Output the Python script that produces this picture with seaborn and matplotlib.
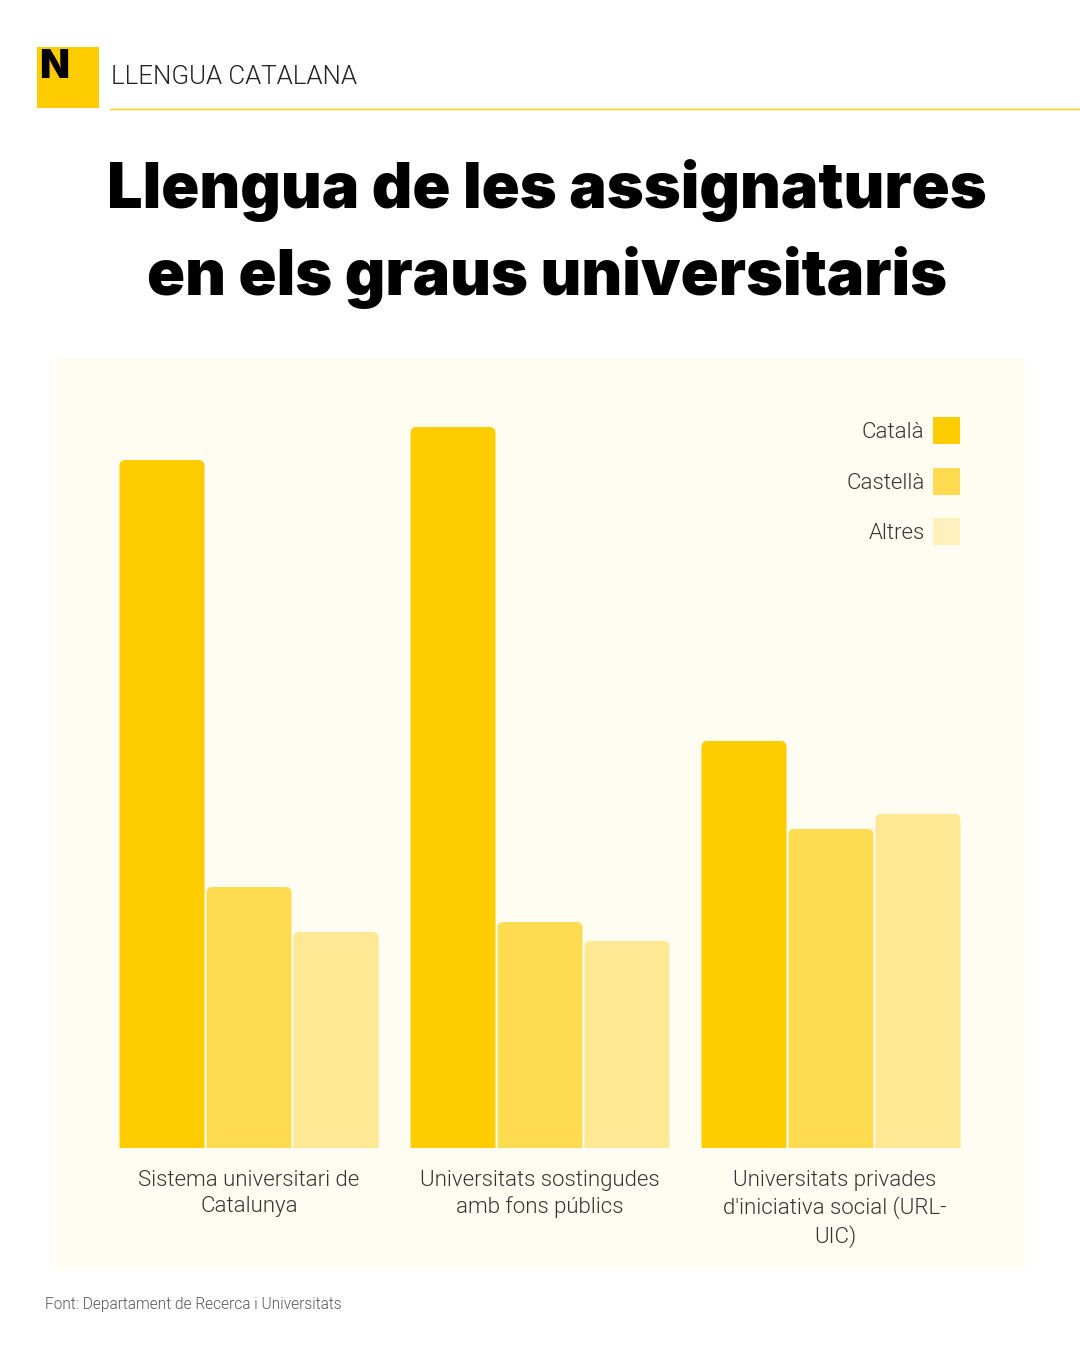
import pandas as pd
import matplotlib.pyplot as plt
import seaborn as sns
from matplotlib.lines import Line2D
from matplotlib.patches import Patch, PathPatch, Rectangle
from matplotlib.path import Path
from matplotlib.transforms import ScaledTranslation

# data
grups = ['Sistema universitari de\nCatalunya',
         'Universitats sostingudes\namb fons públics',
         "Universitats privades\nd'iniciativa social (URL-\nUIC)"]
llengues = ['Català', 'Castellà', 'Altres']
catala = [68.8, 72.1, 40.7]
castella = [26.1, 22.6, 31.9]
altres = [21.6, 20.7, 33.4]

colors_barres = ['#FFCC00', '#FFDB52', '#FEE894']
colors_llegenda = ['#FFCC00', '#FFDB52', '#FFF0BD']

W, H = 1080, 1350
lletra = 'Roboto'

df = pd.DataFrame({
    'grup': grups * 3,
    'llengua': [l for l in llengues for _ in grups],
    'valor': catala + castella + altres,
})

sns.set_theme(style='white')
plt.rcParams['font.family'] = [lletra, 'DejaVu Sans']

fig = plt.figure(figsize=(W / 100, H / 100), dpi=100, facecolor='white')


def caixa(x0, y0, x1, y1):
    # px amb origen a dalt -> fraccio de figura
    return [x0 / W, 1 - y1 / H, (x1 - x0) / W, (y1 - y0) / H]


# fons del grafic
fig.add_artist(Rectangle((55 / W, 1 - 1270 / H), 970 / W, 912 / H, transform=fig.transFigure,
                         facecolor='#FFFDF2', edgecolor='none', zorder=-1))

# capcalera
fig.add_artist(Rectangle((37 / W, 1 - 108 / H), 62 / W, 61 / H, transform=fig.transFigure,
                         facecolor='#FFCC00', edgecolor='none'))
fig.text(39 / W, 1 - 78 / H, 'N', fontsize=28, fontweight=900, family='Inter', color='black', va='baseline')
fig.text(111 / W, 1 - 84 / H, 'LLENGUA CATALANA', fontsize=18.6, fontweight=300, color='#222222', va='baseline')
fig.add_artist(Line2D([110 / W, 1], [1 - 108.5 / H] * 2, transform=fig.transFigure, color='#FFCC00', lw=1))

# titol
fig.text(547 / W, 1 - 208 / H, 'Llengua de les assignatures', fontsize=45.3, fontweight=900, family='Inter',
         color='black', ha='center', va='baseline')
fig.text(547 / W, 1 - 295 / H, 'en els graus universitaris', fontsize=45.3, fontweight=900, family='Inter',
         color='black', ha='center', va='baseline')

# barres
ax = fig.add_axes(caixa(55, 358, 1025, 1148))
ax.patch.set_alpha(0)
sns.barplot(data=df, x='grup', y='valor', hue='llengua', hue_order=llengues,
            palette=colors_barres, saturation=1, width=0.897, gap=0.023, legend=False, ax=ax)
ax.set_xlim((55 - 249) / 291, (1025 - 249) / 291)
ax.set_ylim(0, 79)

# cantonades arrodonides a dalt
rx = 6 / 291
ry = 6 / 10
for barra in list(ax.patches):
    x0, y0 = barra.get_x(), barra.get_y()
    x1, y1 = x0 + barra.get_width(), y0 + barra.get_height()
    cami = Path([(x0, y0), (x0, y1 - ry), (x0, y1), (x0 + rx, y1), (x1 - rx, y1), (x1, y1),
                 (x1, y1 - ry), (x1, y0), (x0, y0)],
                [Path.MOVETO, Path.LINETO, Path.CURVE3, Path.CURVE3, Path.LINETO, Path.CURVE3,
                 Path.CURVE3, Path.LINETO, Path.CLOSEPOLY])
    ax.add_patch(PathPatch(cami, facecolor=barra.get_facecolor(), edgecolor='none'))
    barra.remove()

sns.despine(ax=ax, left=True, bottom=True)
ax.set_xlabel('')
ax.set_ylabel('')
ax.set_yticks([])
ax.tick_params(axis='x', length=0, pad=16, labelsize=16, labelcolor='#333333')
for t in ax.get_xticklabels():
    t.set_fontweight(300)
    t.set_linespacing(1.3)
# l'ultima etiqueta va una mica a la dreta
ultima = ax.get_xticklabels()[2]
ultima.set_transform(ultima.get_transform() + ScaledTranslation(4 / 100, 0, fig.dpi_scale_trans))

# llegenda
mans = [Patch(facecolor=c, edgecolor='none') for c in colors_llegenda]
ax.legend(mans, llengues, loc='upper right', bbox_to_anchor=(905 / 970, (1148 - 417) / 790),
          frameon=False, markerfirst=False, handlelength=1.2, handleheight=1.49,
          handletextpad=0.4, labelspacing=1.07, borderpad=0, borderaxespad=0,
          labelcolor='#333333', prop={'size': 16, 'weight': 300})

fig.text(45 / W, 1 - 1309 / H, 'Font: Departament de Recerca i Universitats', fontsize=11.2,
         fontweight=300, color='#555555', va='baseline')

plt.savefig('out.png', dpi=100)
